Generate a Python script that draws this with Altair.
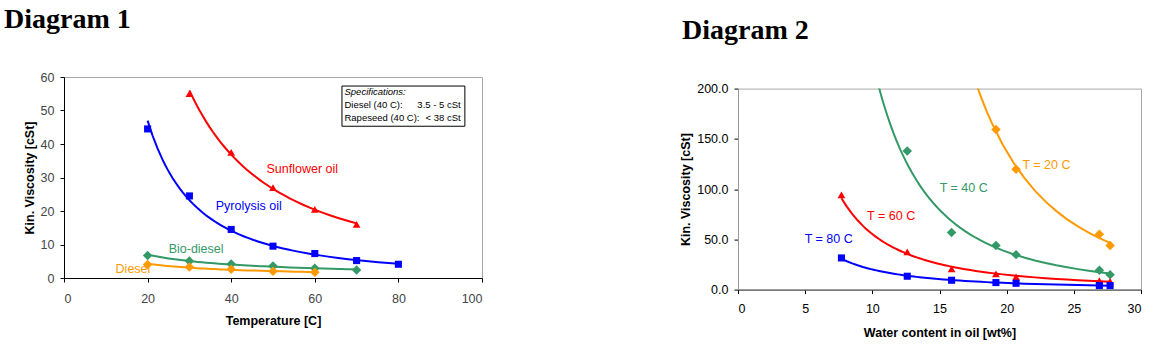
import altair as alt
import pandas as pd

# ---------------- Diagram 1 data ----------------
d1_series = ["Sunflower oil", "Pyrolysis oil", "Bio-diesel", "Diesel"]
d1_colors = ["#ff0000", "#0000ff", "#339966", "#ff9900"]
d1_shapes = ["triangle-up", "square", "diamond", "diamond"]
d1_sizes = [60, 50, 90, 90]

sun_temp = [30, 40, 50, 60, 70]
sun_visc = [55.0, 37.5, 27.0, 20.5, 16.0]
pyr_temp = [20, 30, 40, 50, 60, 70, 80]
pyr_visc = [44.5, 24.5, 14.5, 9.5, 7.3, 5.2, 4.1]
bio_temp = [20, 30, 40, 50, 60, 70]
bio_visc = [6.7, 5.1, 4.2, 3.6, 2.9, 2.4]
die_temp = [20, 30, 40, 50, 60]
die_visc = [4.0, 3.3, 2.6, 2.0, 1.7]

d1_label_text = ["Sunflower oil", "Pyrolysis oil", "Bio-diesel", "Diesel"]
d1_label_x = [57.0, 44.2, 31.6, 16.5]
d1_label_y = [32.4, 21.6, 8.8, 2.7]

spec_head = ["Specifications:"]
spec_left = ["Diesel (40 C):", "Rapeseed (40 C):"]
spec_right = ["3.5 - 5 cSt", "< 38 cSt"]
spec_box_x = [66.5, 95.9]
spec_box_y = [45.3, 57.3]
spec_text_x = [67.1, 94.9]
spec_text_y = [55.4, 51.6, 47.8]

# ---------------- Diagram 2 data ----------------
d2_series = ["T = 20 C", "T = 40 C", "T = 60 C", "T = 80 C"]
d2_colors = ["#ff9900", "#339966", "#ff0000", "#0000ff"]
d2_shapes = ["diamond", "diamond", "triangle-up", "square"]
d2_sizes = [90, 90, 60, 50]

t20_water = [19.2, 20.7, 26.9, 27.7]
t20_visc = [159.2, 119.7, 55.0, 43.8]
t40_water = [12.6, 15.9, 19.2, 20.7, 26.9, 27.7]
t40_visc = [138.0, 56.7, 43.8, 34.8, 19.2, 14.9]
t60_water = [7.7, 12.6, 15.9, 19.2, 20.7, 26.9, 27.7]
t60_visc = [94.2, 37.5, 20.6, 15.6, 12.6, 9.0, 8.3]
t80_water = [7.7, 12.6, 15.9, 19.2, 20.7, 26.9, 27.7]
t80_visc = [31.5, 13.3, 9.3, 7.0, 6.3, 4.0, 4.0]

d2_label_x = [22.96, 16.8, 11.4, 6.75]
d2_label_y = [124.4, 101.0, 73.3, 50.0]
d2_extent = [7.7, 27.7]

FONT = "Liberation Sans"


def rows(name, xs, ys, xname, yname, series_list, size_list):
    msize = size_list[series_list.index(name)]
    return [{"series": name, xname: a, yname: b, "msize": msize} for a, b in zip(xs, ys)]


# ---------------- Diagram 1 chart ----------------
df1 = pd.DataFrame(
    rows("Sunflower oil", sun_temp, sun_visc, "temp", "visc", d1_series, d1_sizes)
    + rows("Pyrolysis oil", pyr_temp, pyr_visc, "temp", "visc", d1_series, d1_sizes)
    + rows("Bio-diesel", bio_temp, bio_visc, "temp", "visc", d1_series, d1_sizes)
    + rows("Diesel", die_temp, die_visc, "temp", "visc", d1_series, d1_sizes)
)
lab1 = pd.DataFrame({"series": d1_series, "label": d1_label_text,
                     "temp": d1_label_x, "visc": d1_label_y})

x1 = alt.X("temp:Q", title="Temperature [C]",
           scale=alt.Scale(domain=[0, 100], nice=False, zero=False),
           axis=alt.Axis(values=[0, 20, 40, 60, 80, 100], grid=False,
                         domainColor="#000000", tickColor="#000000", tickSize=4,
                         labelPadding=10, labelColor="#444444", labelFontSize=12.5,
                         titleFontSize=12.5, titleFontWeight="bold", titleColor="#000000",
                         titlePadding=10, labelFont=FONT, titleFont=FONT))
y1 = alt.Y("visc:Q", title="Kin. Viscosity [cSt]",
           scale=alt.Scale(domain=[0, 60], nice=False, zero=False),
           axis=alt.Axis(values=[0, 10, 20, 30, 40, 50, 60], grid=False,
                         domainColor="#000000", tickColor="#000000", tickSize=4,
                         labelPadding=6, labelColor="#444444", labelFontSize=12.5,
                         titleFontSize=12.5, titleFontWeight="bold", titleColor="#000000",
                         titlePadding=4, labelFont=FONT, titleFont=FONT))
col1 = alt.Color("series:N", scale=alt.Scale(domain=d1_series, range=d1_colors), legend=None)

lines1 = alt.Chart(df1).transform_regression(
    "temp", "visc", method="pow", groupby=["series"]
).mark_line(strokeWidth=2).encode(x=x1, y=y1, color=col1)

pts1 = alt.Chart(df1).mark_point(filled=True, opacity=1).encode(
    x=x1, y=y1, color=col1,
    shape=alt.Shape("series:N", scale=alt.Scale(domain=d1_series, range=d1_shapes), legend=None),
    size=alt.Size("msize:Q", scale=None, legend=None),
)

txt1 = alt.Chart(lab1).mark_text(font=FONT, fontSize=12.5).encode(
    x=x1, y=y1, text="label:N", color=col1)

box_df = pd.DataFrame({"temp": [spec_box_x[0]], "temp2": [spec_box_x[1]],
                       "visc": [spec_box_y[0]], "visc2": [spec_box_y[1]]})
box = alt.Chart(box_df).mark_rect(fill="white", stroke="#000000", strokeWidth=1).encode(
    x=x1, x2="temp2:Q", y=y1, y2="visc2:Q")

head_df = pd.DataFrame({"t": spec_head, "temp": [spec_text_x[0]], "visc": [spec_text_y[0]]})
left_df = pd.DataFrame({"t": spec_left, "temp": [spec_text_x[0]] * 2, "visc": spec_text_y[1:]})
right_df = pd.DataFrame({"t": spec_right, "temp": [spec_text_x[1]] * 2, "visc": spec_text_y[1:]})

head = alt.Chart(head_df).mark_text(align="left", font=FONT, fontSize=9.5, fontStyle="italic",
                                    color="#000000").encode(x=x1, y=y1, text="t:N")
left = alt.Chart(left_df).mark_text(align="left", font=FONT, fontSize=9.5,
                                    color="#000000").encode(x=x1, y=y1, text="t:N")
right = alt.Chart(right_df).mark_text(align="right", font=FONT, fontSize=9.5,
                                      color="#000000").encode(x=x1, y=y1, text="t:N")

chart1 = alt.layer(lines1, pts1, txt1, box, head, left, right).properties(
    width=418, height=201,
    view=alt.ViewBackground(stroke="#a8a8a8", strokeWidth=1),
    title=alt.Title("Diagram 1", anchor="start", frame="group", dx=-60, offset=15.5,
                    baseline="alphabetic", font="Liberation Serif", fontSize=28,
                    fontWeight="bold", color="#000000"),
)

# ---------------- Diagram 2 chart ----------------
df2 = pd.DataFrame(
    rows("T = 20 C", t20_water, t20_visc, "water", "visc", d2_series, d2_sizes)
    + rows("T = 40 C", t40_water, t40_visc, "water", "visc", d2_series, d2_sizes)
    + rows("T = 60 C", t60_water, t60_visc, "water", "visc", d2_series, d2_sizes)
    + rows("T = 80 C", t80_water, t80_visc, "water", "visc", d2_series, d2_sizes)
)
lab2 = pd.DataFrame({"series": d2_series, "label": d2_series,
                     "water": d2_label_x, "visc": d2_label_y})

x2 = alt.X("water:Q", title="Water content in oil [wt%]",
           scale=alt.Scale(domain=[0, 30], nice=False, zero=False),
           axis=alt.Axis(values=[0, 5, 10, 15, 20, 25, 30], grid=False,
                         domainColor="#404040", tickColor="#000000", tickSize=4,
                         labelPadding=9, labelColor="#000000", labelFontSize=12.5,
                         titleFontSize=12.5, titleFontWeight="bold", titleColor="#000000",
                         titlePadding=11, labelFont=FONT, titleFont=FONT))
y2 = alt.Y("visc:Q", title="Kin. Viscosity [cSt]",
           scale=alt.Scale(domain=[0, 200], nice=False, zero=False),
           axis=alt.Axis(values=[0, 50, 100, 150, 200], format=".1f", grid=False,
                         domainColor="#999999", tickColor="#000000", tickSize=4,
                         labelPadding=6, labelColor="#000000", labelFontSize=12.5,
                         titleFontSize=12.5, titleFontWeight="bold", titleColor="#000000",
                         titlePadding=4, labelFont=FONT, titleFont=FONT))
col2 = alt.Color("series:N", scale=alt.Scale(domain=d2_series, range=d2_colors), legend=None)

lines2 = alt.Chart(df2).transform_regression(
    "water", "visc", method="pow", groupby=["series"], extent=d2_extent
).mark_line(strokeWidth=2, clip=True).encode(x=x2, y=y2, color=col2)

pts2 = alt.Chart(df2).mark_point(filled=True, opacity=1).encode(
    x=x2, y=y2, color=col2,
    shape=alt.Shape("series:N", scale=alt.Scale(domain=d2_series, range=d2_shapes), legend=None),
    size=alt.Size("msize:Q", scale=None, legend=None),
)

txt2 = alt.Chart(lab2).mark_text(font=FONT, fontSize=12.5).encode(
    x=x2, y=y2, text="label:N", color=col2)

chart2 = alt.layer(lines2, pts2, txt2).properties(
    width=403, height=201,
    view=alt.ViewBackground(stroke="#a8a8a8", strokeWidth=1),
    title=alt.Title("Diagram 2", anchor="start", frame="group", dx=-56, offset=15.5,
                    baseline="alphabetic", font="Liberation Serif", fontSize=28,
                    fontWeight="bold", color="#000000"),
)

spacer = alt.Chart(pd.DataFrame({"v": [0]})).mark_point(opacity=0).encode(
    x=alt.value(0), y=alt.value(0)
).properties(width=1, height=1, view=alt.ViewBackground(stroke=None))

right_col = alt.vconcat(spacer, chart2, spacing=10.6, bounds="flush")

chart = alt.hconcat(chart1, right_col, spacing=256, bounds="flush").resolve_scale(
    color="independent", shape="independent", size="independent"
).properties(
    padding={"left": 3, "top": 5, "right": 0, "bottom": 0}
).configure(font=FONT)

chart.save("out.html", embed_options={"renderer": "svg", "actions": False})
